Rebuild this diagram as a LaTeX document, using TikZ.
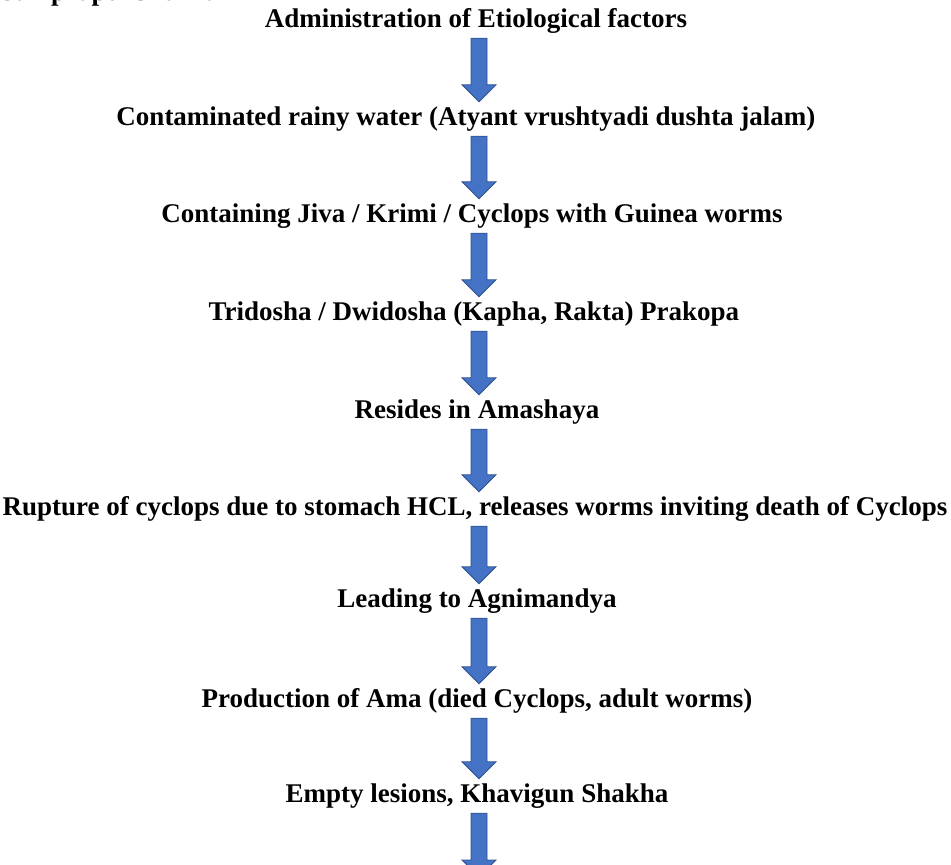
\documentclass[tikz,border=0pt]{standalone}
\usepackage{fontspec}
\setmainfont{Liberation Serif}
\usetikzlibrary{calc}
\definecolor{arrowfill}{HTML}{4472C4}
\definecolor{arrowline}{HTML}{2F528F}
\tikzset{
	steptext/.style={font=\bfseries\fontsize{27}{32}\selectfont, inner sep=0, text height=23pt, text depth=11pt, anchor=base},
	blockarrow/.style={fill=arrowfill, draw=arrowline, line width=0.8pt, line join=miter}
}
\def\flowarrow(#1)(#2){\draw[blockarrow] let \p1=(#1 -| axis), \p2=(#2 -| axis) in (\x1-8,\y1) -- (\x1+8,\y1) -- (\x1+8,\y2+17) -- (\x1+17,\y2+17) -- (\x2,\y2) -- (\x1-17,\y2+17) -- (\x1-8,\y2+17) -- cycle;}

\begin{document}
\begin{tikzpicture}[x=1pt, y=1pt]
		%%%%% START %%%%%
		
		\useasboundingbox (0, 0) rectangle (951, -865);
		\clip (0, 0) rectangle (951, -865);
		
		\coordinate (axis) at (479, 0);
		
		\node[steptext, anchor=base west] (title) at (0, 0) {Samprapti Chakra};
		
		\node[steptext] (t1) at (476, -27) {Administration of Etiological factors};
		\node[steptext] (t2) at (466, -125) {Contaminated rainy water (Atyant vrushtyadi dushta jalam)};
		\node[steptext] (t3) at (472, -222) {Containing Jiva / Krimi / Cyclops with Guinea worms};
		\node[steptext] (t4) at (474, -320) {Tridosha / Dwidosha (Kapha, Rakta) Prakopa};
		\node[steptext] (t5) at (477, -418) {Resides in Amashaya};
		\node[steptext] (t6) at (475, -515) {Rupture of cyclops due to stomach HCL, releases worms inviting death of Cyclops};
		\node[steptext] (t7) at (477, -607) {Leading to Agnimandya};
		\node[steptext] (t8) at (477, -707) {Production of Ama (died Cyclops, adult worms)};
		\node[steptext] (t9) at (477, -802) {Empty lesions, Khavigun Shakha};
		\coordinate (t10) at (479, -877);
		
		\flowarrow(t1.south)(t2.north)
		\flowarrow(t2.south)(t3.north)
		\flowarrow(t3.south)(t4.north)
		\flowarrow(t4.south)(t5.north)
		\flowarrow(t5.south)(t6.north)
		\flowarrow(t6.south)(t7.north)
		\flowarrow(t7.south)(t8.north)
		\flowarrow(t8.south)(t9.north)
		\flowarrow(t9.south)(t10)
		
		%%%%% END %%%%%
\end{tikzpicture}
\end{document}
